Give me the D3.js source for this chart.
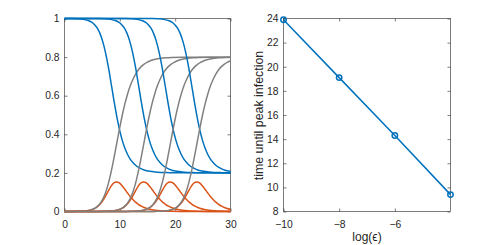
<!DOCTYPE html>
<html><head><meta charset="utf-8">
<script src="https://cdn.jsdelivr.net/npm/d3@7"></script>
<style>
body{margin:0;background:#fff}
svg{display:block}
text{font-family:"Liberation Sans",Arial,Helvetica,sans-serif;fill:#262626}
</style>
</head><body>
<svg id="c" width="498" height="245"></svg>
<script>
// ---- data ----
// right panel: log(epsilon) vs time until peak infection
const logEps = [-10, -8, -6, -4];
const peakTime = [23.9, 19.1, 14.3, 9.4];
// left panel: one run per epsilon; time of its infection peak (same runs as right panel)
const runPeaks = [9.4, 14.3, 19.1, 23.9];
// shape of each run, as time relative to the run's peak
const tauRel = [-24, -8, -7, -6, -5, -4.5, -4, -3.5, -3, -2.5, -2, -1.5, -1, -0.5, 0, 0.5, 1, 1.5, 2, 2.5, 3, 3.5, 4, 4.5, 5, 5.5, 6, 7, 8, 9, 10, 12, 14, 21];
const susceptible = [1, 0.9994, 0.9984, 0.9957, 0.9884, 0.9811, 0.9693, 0.9509, 0.9228, 0.8816, 0.8247, 0.7528, 0.6684, 0.5812, 0.4996, 0.4296, 0.3725, 0.3285, 0.2953, 0.2703, 0.2525, 0.2385, 0.2284, 0.2207, 0.2154, 0.2114, 0.2085, 0.2048, 0.2027, 0.2016, 0.2010, 0.2004, 0.2002, 0.2000];
const infected = [0, 0.0003, 0.0008, 0.0022, 0.0058, 0.0094, 0.0151, 0.0239, 0.0371, 0.0554, 0.0790, 0.1052, 0.1302, 0.1475, 0.1534, 0.1479, 0.1339, 0.1152, 0.0955, 0.0769, 0.0608, 0.0471, 0.0362, 0.0275, 0.0208, 0.0157, 0.0118, 0.0066, 0.0036, 0.0020, 0.0011, 0.0004, 0.0001, 0];
const recovered = [0, 0.0003, 0.0008, 0.0022, 0.0059, 0.0096, 0.0156, 0.0252, 0.0402, 0.0630, 0.0964, 0.1420, 0.2014, 0.2713, 0.3470, 0.4225, 0.4936, 0.5563, 0.6092, 0.6529, 0.6867, 0.7144, 0.7355, 0.7518, 0.7638, 0.7729, 0.7797, 0.7887, 0.7937, 0.7964, 0.7979, 0.7992, 0.7996, 0.7998];
const leftXTicks = [0, 10, 20, 30];
const leftYTicks = [0, 0.2, 0.4, 0.6, 0.8, 1];
const rightXTicks = [-10, -8, -6];
const rightYTicks = [8, 10, 12, 14, 16, 18, 20, 22, 24];

// ---- drawing ----
const svg = d3.select("#c");
const BLUE = "#0072BD", ORANGE = "#D95319", GRAY = "#808080", AX = "#262626";

function drawAxes(x, y, xt, yt, fmtX, fmtY) {
  const [x0, x1] = x.range(), [y0, y1] = y.range();
  const g = svg.append("g");
  const styl = sel => {
    sel.select(".domain").remove();
    sel.selectAll(".tick line").attr("stroke", AX).attr("stroke-width", 0.6);
    sel.selectAll("text").attr("font-size", 10.3).attr("fill", AX);
  };
  g.append("g").attr("transform", `translate(0,${y0})`)
    .call(d3.axisBottom(x).tickValues(xt).tickSize(-3).tickPadding(9).tickFormat(fmtX)).call(styl);
  g.append("g").attr("transform", `translate(0,${y1})`)
    .call(d3.axisTop(x).tickValues(xt).tickSize(-3).tickFormat("")).call(styl);
  g.append("g").attr("transform", `translate(${x0},0)`)
    .call(d3.axisLeft(y).tickValues(yt).tickSize(-3).tickPadding(5).tickFormat(fmtY)).call(styl);
  g.append("g").attr("transform", `translate(${x1},0)`)
    .call(d3.axisRight(y).tickValues(yt).tickSize(-3).tickFormat("")).call(styl);
  g.selectAll("text").attr("font-family", '"Liberation Sans",Arial,sans-serif');
  svg.append("rect").attr("x", x0).attr("y", y1).attr("width", x1 - x0).attr("height", y0 - y1)
    .attr("fill", "none").attr("stroke", AX).attr("stroke-width", 0.6);
}

// left panel
const xL = d3.scaleLinear([0, 30], [64.5, 230.5]);
const yL = d3.scaleLinear([0, 1], [211.5, 18.5]);
drawAxes(xL, yL, leftXTicks, leftYTicks, d3.format("d"), d => d3.format("")(d));

svg.append("clipPath").attr("id", "clipL").append("rect")
  .attr("x", 64.5).attr("y", 14).attr("width", 166).attr("height", 202);
const gL = svg.append("g").attr("clip-path", "url(#clipL)");
runPeaks.forEach(p => {
  [[susceptible, BLUE], [infected, ORANGE], [recovered, GRAY]].forEach(([vals, col]) => {
    const pts = tauRel.map((t, i) => [p + t, vals[i]]);
    gL.append("path")
      .attr("d", d3.line().x(d => xL(d[0])).y(d => yL(d[1])).curve(d3.curveMonotoneX)(pts))
      .attr("fill", "none").attr("stroke", col).attr("stroke-width", 1.5);
  });
});

// right panel
const xR = d3.scaleLinear([-10, -4], [283.5, 450.5]);
const yR = d3.scaleLinear([8, 24], [211.5, 18.5]);
drawAxes(xR, yR, rightXTicks, rightYTicks, d3.format("d"), d3.format("d"));
const pr = logEps.map((v, i) => [v, peakTime[i]]);
svg.append("path")
  .attr("d", d3.line().x(d => xR(d[0])).y(d => yR(d[1]))(pr))
  .attr("fill", "none").attr("stroke", BLUE).attr("stroke-width", 1.5);
svg.selectAll("circle.m").data(pr).enter().append("circle")
  .attr("cx", d => xR(d[0])).attr("cy", d => yR(d[1])).attr("r", 2.7)
  .attr("fill", "none").attr("stroke", BLUE).attr("stroke-width", 1.5);

svg.append("text").attr("x", 367).attr("y", 241).attr("text-anchor", "middle")
  .attr("font-size", 12).text("log(\u03F5)");
svg.append("text").attr("transform", "translate(263,115.5) rotate(-90)").attr("text-anchor", "middle")
  .attr("font-size", 12.4).text("time until peak infection");
</script>
</body></html>
